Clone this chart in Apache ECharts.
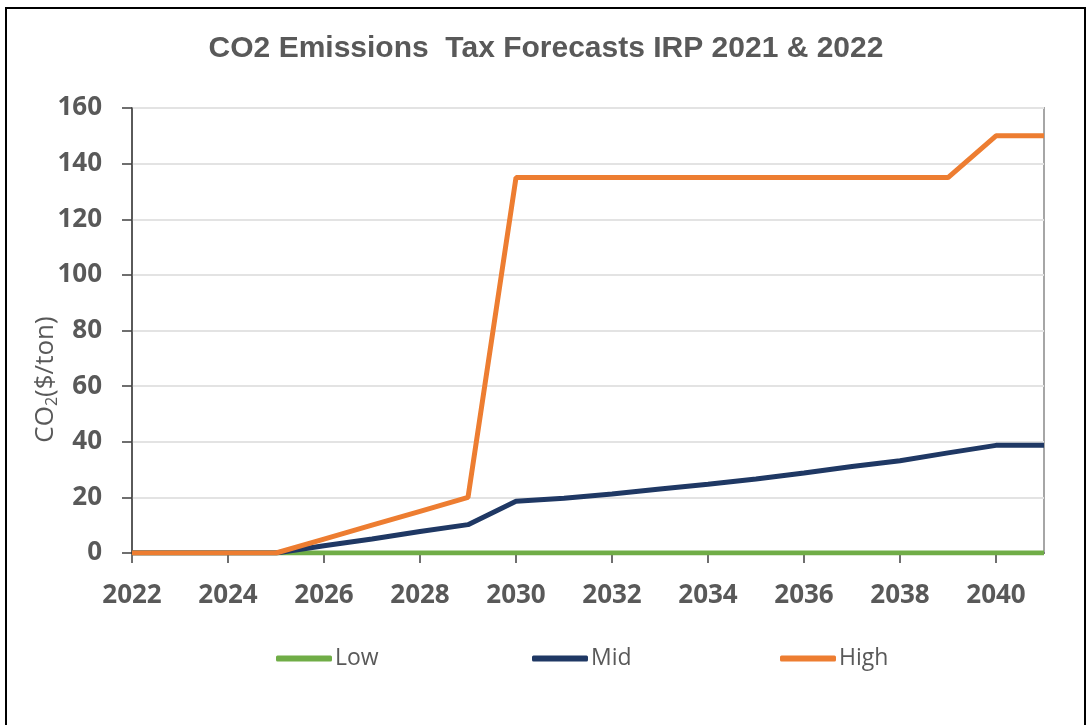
<!DOCTYPE html>
<html>
<head>
<meta charset="utf-8">
<script src="https://cdn.jsdelivr.net/npm/echarts@6/dist/echarts.min.js"></script>
<style>
html,body{margin:0;padding:0;background:#fff;}
#chart{width:1092px;height:725px;}
</style>
</head>
<body>
<div id="chart"></div>
<script>
const years = ['2022','2023','2024','2025','2026','2027','2028','2029','2030','2031','2032','2033','2034','2035','2036','2037','2038','2039','2040','2041'];
const lowValues  = [0,0,0,0,0,0,0,0,0,0,0,0,0,0,0,0,0,0,0,0];
const midValues  = [0,0,0,0,2.6,5.0,7.7,10.2,18.6,19.7,21.2,23.0,24.7,26.6,28.8,31.1,33.2,36.0,38.7,38.7];
const highValues = [0,0,0,0,5,10,15,20,135,135,135,135,135,135,135,135,135,135,150,150];
const seriesNames = ['Low','Mid','High'];
const yTicks = {min:0, max:160, interval:20};

const chart = echarts.init(document.getElementById('chart'));
const grey = '#595959';
const legendBase = {
  top: 642, icon: 'roundRect', itemWidth: 56, itemHeight: 6,
  textStyle: {fontFamily: 'Open Sans', fontSize: 23, color: grey, padding: [0,0,0,-2]}
};
chart.setOption({
  backgroundColor: '#fff',
  animation: false,
  title: {
    text: 'CO2 Emissions  Tax Forecasts IRP 2021 & 2022',
    left: 'center', top: 29,
    textStyle: {fontFamily: 'Liberation Sans', fontWeight: 'bold', fontSize: 30, color: grey}
  },
  graphic: [{
    type: 'rect', shape: {x: 6, y: 8, width: 1079, height: 730},
    style: {fill: 'none', stroke: '#000', lineWidth: 2}, silent: true
  }],
  legend: [
    Object.assign({left: 271, data: [seriesNames[0]]}, legendBase),
    Object.assign({left: 527, data: [seriesNames[1]]}, legendBase),
    Object.assign({left: 775, data: [seriesNames[2]]}, legendBase)
  ],
  grid: {left: 132, right: 48, top: 108, bottom: 172, show: true, borderColor: '#a6a6a6', borderWidth: 2, backgroundColor: 'transparent'},
  xAxis: {
    type: 'category', data: years, boundaryGap: false,
    axisLine: {lineStyle: {color: '#404040', width: 1.5}},
    axisTick: {show: true, interval: 1, length: 10, lineStyle: {color: '#404040', width: 1.5}},
    axisLabel: {interval: 1, margin: 30, fontFamily: 'Open Sans', fontWeight: 'bold', fontSize: 26, color: grey},
    splitLine: {show: false}
  },
  yAxis: {
    type: 'value', min: yTicks.min, max: yTicks.max, interval: yTicks.interval,
    name: 'CO{sub|2}($/ton)', nameLocation: 'middle', nameGap: 72, nameMoveOverlap: false,
    nameTextStyle: {fontFamily: 'Open Sans', fontSize: 26, color: grey, padding: [0, 98, 0, 0],
      rich: {sub: {fontFamily: 'Open Sans', fontSize: 16, color: grey, verticalAlign: 'bottom', padding: [12,0,0,0]}}},
    axisLine: {show: true, lineStyle: {color: '#404040', width: 1.5}},
    axisTick: {show: true, length: 10, lineStyle: {color: '#404040', width: 1.5}},
    axisLabel: {margin: 30, fontFamily: 'Open Sans', fontWeight: 'bold', fontSize: 26, color: grey},
    splitLine: {show: true, lineStyle: {color: '#e3e3e3', width: 2}}
  },
  series: [
    {name: seriesNames[0], type: 'line', data: lowValues, showSymbol: false, color: '#70AD47', lineStyle: {width: 5, color: '#70AD47'}, z: 2},
    {name: seriesNames[1], type: 'line', data: midValues, showSymbol: false, color: '#1F3864', lineStyle: {width: 5, color: '#1F3864'}, z: 3},
    {name: seriesNames[2], type: 'line', data: highValues, showSymbol: false, color: '#ED7D31', lineStyle: {width: 5, color: '#ED7D31'}, z: 4}
  ]
});
</script>
</body>
</html>
